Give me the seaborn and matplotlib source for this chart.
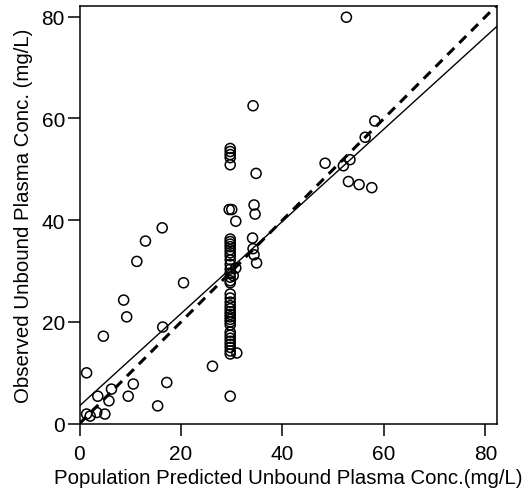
import matplotlib
matplotlib.use("Agg")
import matplotlib.pyplot as plt
import seaborn as sns
import numpy as np
import pandas as pd

# Population-predicted vs observed unbound plasma concentrations (mg/L)
predicted = [
    1.4, 4.7, 9.3, 16.4, 10.6, 17.2, 9.6, 15.4, 6.3, 3.6, 5.8, 5.0, 3.4, 1.4, 2.1,
    16.3, 13.0, 11.3, 20.5, 8.7,
    34.2, 29.7, 29.7, 29.7, 29.7, 29.7, 34.8, 29.5, 30.0, 34.4, 34.6, 30.8,
    34.1, 34.2, 34.4, 34.9, 30.8, 30.3,
    29.7, 29.7, 29.7, 29.7, 29.7, 29.7, 29.7, 29.7, 29.7, 29.7, 29.7, 29.7, 29.7, 29.7,
    29.7, 29.7, 29.7, 29.7, 29.7, 29.7, 29.7, 29.7, 29.7, 29.7, 29.7, 29.7, 29.7, 29.7,
    29.7, 29.7, 29.7, 29.7, 29.7,
    31.0, 26.2, 29.7,
    52.6, 58.2, 56.3, 48.4, 52.0, 53.3, 53.0, 55.1, 57.6,
]
observed = [
    10.0, 17.2, 21.0, 19.0, 7.8, 8.1, 5.4, 3.5, 6.8, 5.4, 4.5, 1.9, 2.2, 1.9, 1.5,
    38.5, 35.9, 31.9, 27.7, 24.3,
    62.5, 54.1, 53.5, 52.9, 52.3, 50.9, 49.2, 42.1, 42.1, 43.0, 41.2, 39.8,
    36.5, 34.4, 33.2, 31.6, 30.6, 29.1,
    36.3, 35.8, 35.3, 34.8, 34.2, 33.6, 33.0, 32.2, 31.3, 30.4, 29.6, 28.8, 28.1, 27.7,
    25.5, 24.7, 23.9, 23.2, 22.6, 22.0, 21.5, 21.0, 20.5, 20.0, 19.4, 18.0, 17.4, 16.8,
    16.2, 15.6, 15.0, 14.3, 13.7,
    13.9, 11.3, 5.4,
    79.9, 59.5, 56.3, 51.2, 50.7, 51.9, 47.6, 47.0, 46.4,
]

# Linear fit of observed on predicted, and the line of identity
fit_intercept = 3.5
fit_slope = 0.907
axis_max = 82.2
ticks = [0, 20, 40, 60, 80]

sns.set_theme(style="ticks")
plt.rcParams["font.family"] = ["Liberation Sans", "DejaVu Sans"]

fig = plt.figure(figsize=(5.30, 5.02), dpi=100)
ax = fig.add_axes([0.150, 0.154, 0.787, 0.833])

df = pd.DataFrame({"pred": predicted, "obs": observed})
sns.scatterplot(data=df, x="pred", y="obs", ax=ax, marker="o", s=52,
                facecolor="none", edgecolor="black", linewidth=1.1, zorder=3)

line_x = np.array([0.0, axis_max])
sns.lineplot(x=line_x, y=fit_intercept + fit_slope * line_x, ax=ax,
             color="black", linewidth=1.0, zorder=4)
sns.lineplot(x=line_x, y=line_x, ax=ax, color="black", linewidth=2.2,
             linestyle=(0, (3.2, 2.3)), zorder=4)

ax.set_xlim(0, axis_max)
ax.set_ylim(0, axis_max)
ax.set_xticks(ticks)
ax.set_yticks(ticks)
ax.tick_params(axis="both", direction="out", length=8.5, width=1.1,
               color="black", labelsize=15, labelcolor="black")
ax.tick_params(axis="x", pad=6)
ax.tick_params(axis="y", pad=2)
for side in ["left", "right", "top", "bottom"]:
    ax.spines[side].set_visible(True)
    ax.spines[side].set_color("black")
    ax.spines[side].set_linewidth(1.1)

ax.set_xlabel("Population Predicted Unbound Plasma Conc.(mg/L)", fontsize=14.7,
              color="black", labelpad=4)
ax.set_ylabel("Observed Unbound Plasma Conc. (mg/L)", fontsize=14.7,
              color="black", labelpad=6)

fig.savefig("out.png", dpi=100)
